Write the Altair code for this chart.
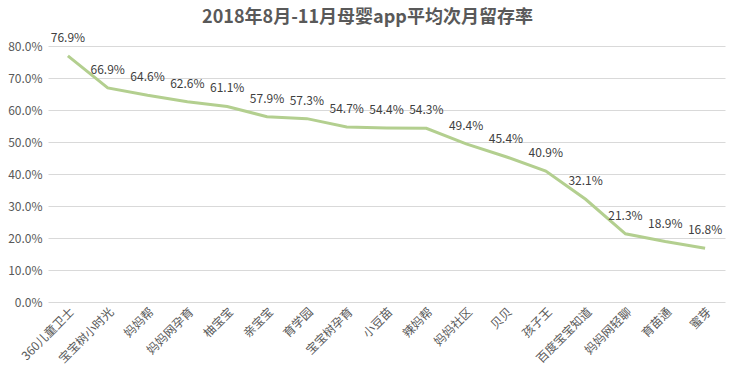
import altair as alt
import pandas as pd

apps = ["360儿童卫士", "宝宝树小时光", "妈妈帮", "妈妈网孕育", "柚宝宝", "亲宝宝", "育学园",
        "宝宝树孕育", "小豆苗", "辣妈帮", "妈妈社区", "贝贝", "孩子王", "百度宝宝知道",
        "妈妈网轻聊", "育苗通", "蜜芽"]
rates = [76.9, 66.9, 64.6, 62.6, 61.1, 57.9, 57.3, 54.7, 54.4, 54.3, 49.4, 45.4, 40.9,
         32.1, 21.3, 18.9, 16.8]
y_ticks = [0, 0.1, 0.2, 0.3, 0.4, 0.5, 0.6, 0.7, 0.8]

df = pd.DataFrame({"app": apps, "rate": [r / 100 for r in rates],
                   "label": [f"{r:.1f}%" for r in rates]})

FONT = "Noto Sans CJK SC"

x = alt.X("app:N", sort=apps, title=None,
          scale=alt.Scale(type="point", padding=0.5),
          axis=alt.Axis(labelAngle=-45, labelFontSize=12, labelColor="#595959",
                        labelFont=FONT, ticks=False, domain=False, grid=False,
                        labelPadding=4))
y = alt.Y("rate:Q", title=None, scale=alt.Scale(domain=[0, 0.8], nice=False),
          axis=alt.Axis(format=".1%", tickCount=9, values=y_ticks, labelOverlap=False,
                        labelFontSize=12, labelColor="#595959", labelFont=FONT,
                        ticks=False, domain=False, gridColor="#d9d9d9", labelPadding=6))

line = alt.Chart(df).mark_line(color="#b3cf8f", strokeWidth=3).encode(x=x, y=y)
text = alt.Chart(df).mark_text(dy=-18, fontSize=12, color="#404040", font=FONT).encode(
    x=alt.X("app:N", sort=apps), y="rate:Q", text="label:N")

chart = alt.layer(line, text).properties(
    width=677, height=256,
    autosize=alt.AutoSizeParams(type="none"),
    padding={"left": 48, "top": 46, "right": 9, "bottom": 74},
    title=alt.TitleParams("2018年8月-11月母婴app平均次月留存率", fontSize=18,
                          fontWeight="bold", color="#595959", font=FONT,
                          anchor="middle", dx=-19, offset=5),
).configure_view(stroke=None)

chart.save("out.html", embed_options={"renderer": "svg", "actions": False})
